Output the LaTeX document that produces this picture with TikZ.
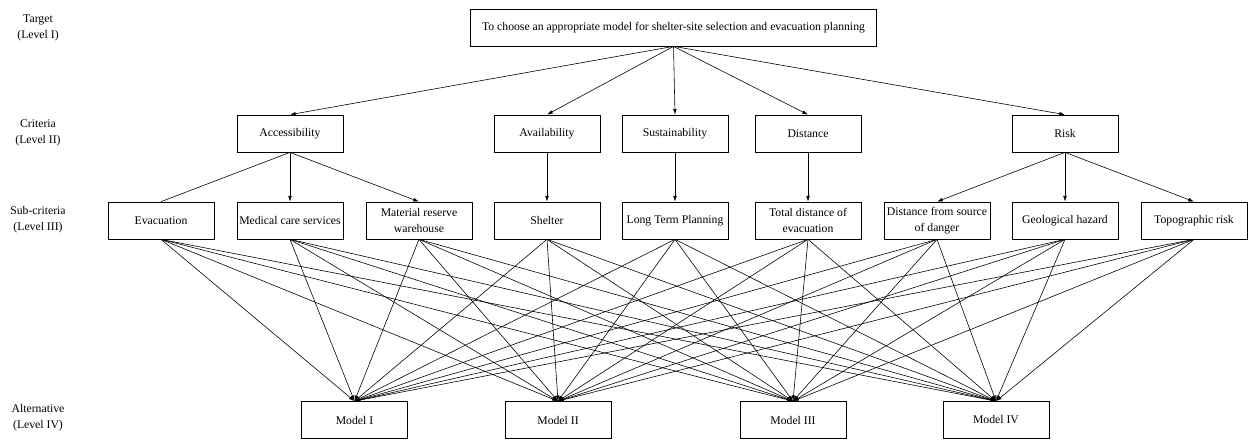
\documentclass[tikz,border=0pt]{standalone}
\usepackage{fontspec}
\setmainfont{Liberation Serif}
\usetikzlibrary{arrows.meta,positioning}
\tikzset{
  goalbox/.style={ draw, line width=0.6pt, minimum width=12.2cm, minimum height=1.11cm, font=\fontsize{10}{13.5}\selectfont }
}
\tikzset{
  itembox/.style={ draw, line width=0.6pt, align=center, inner xsep=1pt, minimum width=3.18cm, minimum height=1.11cm, font=\fontsize{10}{13.5}\selectfont }
}
\tikzset{
  levlab/.style={ align=center, font=\fontsize{10}{13.5}\selectfont }
}
\tikzset{
  arr/.style={ line width=0.5pt, -{Latex[length=1.7mm,width=1.1mm]} }
}

\begin{document}
\begin{tikzpicture}[x=0.03cm, y=-0.03cm]
      \useasboundingbox (0,0) rectangle (1248,439);

      \node[levlab] (lv1) at (38,28) {Target\\(Level I)};
      \node[levlab] (lv2) at (38,133) {Criteria\\(Level II)};
      \node[levlab] (lv3) at (38,220) {Sub-criteria\\(Level III)};
      \node[levlab] (lv4) at (38,418) {Alternative\\(Level IV)};

      \node[goalbox] (goal) at (673.5,27.5) {To choose an appropriate model for shelter-site selection and evacuation planning};

      \node[itembox] (acc) at (290,133.5) {Accessibility};
      \node[itembox] (avail) at (547,133.5) {Availability};
      \node[itembox] (sust) at (675,133.5) {Sustainability};
      \node[itembox] (dist) at (808,133.5) {Distance};
      \node[itembox] (risk) at (1065,133.5) {Risk};

      \node[itembox] (evac) at (161,220.5) {Evacuation};
      \node[itembox] (med) at (290,220.5) {Medical care services};
      \node[itembox] (mat) at (419,220.5) {Material reserve\\warehouse};
      \node[itembox] (shel) at (547,220.5) {Shelter};
      \node[itembox] (ltp) at (675,220.5) {Long Term Planning};
      \node[itembox] (tot) at (808,220.5) {Total distance of\\evacuation};
      \node[itembox] (src) at (937,220.5) {Distance from source\\of danger};
      \node[itembox] (geo) at (1065,220.5) {Geological hazard};
      \node[itembox] (topo) at (1194,220.5) {Topographic risk};

      \node[itembox] (m1) at (354.5,420) {Model I};
      \node[itembox] (m2) at (558,420) {Model II};
      \node[itembox] (m3) at (793,420) {Model III};
      \node[itembox] (m4) at (996,420) {Model IV};

      \foreach \c in {acc,avail,sust,dist,risk}
        \draw[arr] (goal.south) -- (\c.north);

      \draw[line width=0.5pt] (acc.south) -- (evac.north);
      \draw[arr] (acc.south) -- (med.north);
      \draw[arr] (acc.south) -- (mat.north);
      \draw[arr] (avail) -- (shel);
      \draw[arr] (sust) -- (ltp);
      \draw[arr] (dist) -- (tot);
      \draw[arr] (risk.south) -- (src.north);
      \draw[arr] (risk.south) -- (geo.north);
      \draw[arr] (risk.south) -- (topo.north);

      \foreach \s in {evac,med,mat,shel,ltp,tot,src,geo,topo}
        \foreach \m in {m1,m2,m3,m4}
          \draw[arr] (\s.south) -- (\m.north);
\end{tikzpicture}
\end{document}
